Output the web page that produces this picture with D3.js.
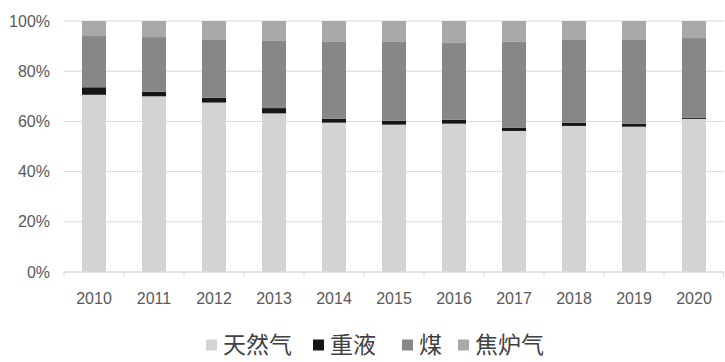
<!DOCTYPE html>
<html>
<head>
<meta charset="utf-8">
<script src="https://cdn.jsdelivr.net/npm/d3@7"></script>
<style>
  body { margin: 0; background: #fff; }
  svg { display: block; }
</style>
</head>
<body>
<svg width="725" height="362"></svg>
<script>
const years = ["2010","2011","2012","2013","2014","2015","2016","2017","2018","2019","2020"];
const seriesNames = ["天然气", "重液", "煤", "焦炉气"];
// shares in %
const gas   = [70.6, 70.0, 67.5, 63.2, 59.5, 58.7, 59.1, 56.2, 58.2, 57.9, 61.0];
const heavy = [3.0, 1.8, 1.9, 2.1, 1.6, 1.6, 1.6, 1.2, 1.3, 1.2, 0.5];
const coal  = [20.4, 21.8, 23.3, 27.0, 30.8, 31.6, 30.8, 34.3, 33.2, 33.6, 31.7];
const coke  = [6.0, 6.4, 7.3, 7.7, 8.1, 8.1, 8.5, 8.3, 7.3, 7.3, 6.8];
const yTicks = [0, 20, 40, 60, 80, 100];
const colors = ["#d3d3d3", "#161616", "#878787", "#a8a8a8"];

const margin = {top: 21, right: 1, bottom: 90, left: 64};
const width = 725 - margin.left - margin.right,
      height = 362 - margin.top - margin.bottom;

const rows = years.map((y, i) => ({year: y, "天然气": gas[i], "重液": heavy[i], "煤": coal[i], "焦炉气": coke[i]}));
const stacked = d3.stack().keys(seriesNames)(rows);

let svg = d3.select("svg");
let g = svg.append("g").attr("transform", `translate(${margin.left}, ${margin.top})`);

const x = d3.scaleBand().domain(years).range([0, width]).paddingInner(0.6).paddingOuter(0.3);
const y = d3.scaleLinear().domain([0, 100]).range([height, 0]);

// gridlines
g.append("g").selectAll("line")
    .data(yTicks)
    .join("line")
    .attr("x1", 0).attr("x2", width)
    .attr("y1", d => y(d)).attr("y2", d => y(d))
    .attr("stroke", "#d9d9d9").attr("stroke-width", 1);

// y labels
g.append("g").selectAll("text")
    .data(yTicks)
    .join("text")
    .attr("x", -14).attr("y", d => y(d))
    .attr("dy", "0.35em")
    .attr("text-anchor", "end")
    .attr("font-family", "Liberation Sans, Arial, sans-serif")
    .attr("font-size", 16)
    .attr("fill", "#595959")
    .text(d => d + "%");

// bars
g.append("g").selectAll("g")
    .data(stacked)
    .join("g")
    .attr("fill", (d, i) => colors[i])
    .selectAll("rect")
    .data(d => d)
    .join("rect")
    .attr("x", d => x(d.data.year))
    .attr("width", x.bandwidth())
    .attr("y", d => y(d[1]))
    .attr("height", d => y(d[0]) - y(d[1]));

// x axis
const step = x.step();
g.append("line")
    .attr("x1", 0).attr("x2", width)
    .attr("y1", height).attr("y2", height)
    .attr("stroke", "#d9d9d9");
g.append("g").selectAll("line")
    .data(d3.range(years.length + 1))
    .join("line")
    .attr("x1", i => Math.min(i * step, width - 0.5)).attr("x2", i => Math.min(i * step, width - 0.5))
    .attr("y1", height).attr("y2", height + 5)
    .attr("stroke", "#d9d9d9");

g.append("g").selectAll("text")
    .data(years)
    .join("text")
    .attr("x", d => x(d) + x.bandwidth() / 2)
    .attr("y", height + 26)
    .attr("dy", "0.35em")
    .attr("text-anchor", "middle")
    .attr("font-family", "Liberation Sans, Arial, sans-serif")
    .attr("font-size", 16)
    .attr("fill", "#595959")
    .text(d => d);

// legend
const legendX = [206, 313, 402, 458];
let legend = svg.append("g").attr("transform", "translate(0, 345)");
let item = legend.selectAll("g")
    .data(seriesNames)
    .join("g")
    .attr("transform", (d, i) => `translate(${legendX[i]}, 0)`);
item.append("rect")
    .attr("x", 0).attr("y", -5.5)
    .attr("width", 11).attr("height", 11)
    .attr("fill", (d, i) => colors[i]);
item.append("text")
    .attr("x", 17).attr("y", 0)
    .attr("dy", "0.36em")
    .attr("font-family", "Noto Sans CJK SC, sans-serif")
    .attr("font-size", 23)
    .attr("fill", "#404040")
    .text(d => d);
</script>
</body>
</html>
